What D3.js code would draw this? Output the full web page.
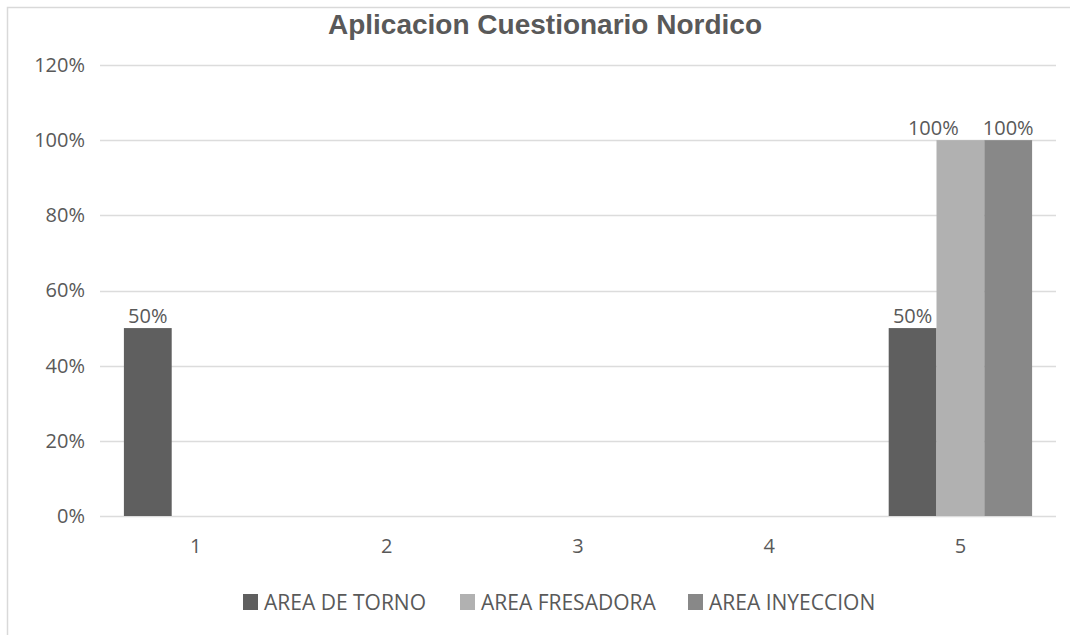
<!DOCTYPE html>
<html>
<head>
<meta charset="utf-8">
<script src="https://cdn.jsdelivr.net/npm/d3@7"></script>
<style>
  html, body { margin: 0; padding: 0; background: #fff; }
  svg { display: block; }
  text { font-family: "Open Sans", "Noto Sans", sans-serif; fill: #595959; }
</style>
</head>
<body>
<svg id="chart" width="1070" height="635"></svg>
<script>
// Chart data
const categories = ["1", "2", "3", "4", "5"];
const seriesNames = ["AREA DE TORNO", "AREA FRESADORA", "AREA INYECCION"];
const areaTorno = [0.5, 0, 0, 0, 0.5];
const areaFresadora = [0, 0, 0, 0, 1];
const areaInyeccion = [0, 0, 0, 0, 1];
const yTicks = [0, 0.2, 0.4, 0.6, 0.8, 1.0, 1.2];
const seriesColors = ["#5f5f5f", "#b1b1b1", "#888888"];
const titleText = "Aplicacion Cuestionario Nordico";

const seriesValues = [areaTorno, areaFresadora, areaInyeccion];

const svg = d3.select("#chart");
const W = 1070, H = 635;
const margin = { left: 100, right: 14, top: 65, bottom: 119 };
const plotW = W - margin.left - margin.right;
const plotH = H - margin.top - margin.bottom;
const labelSize = "20px";
const labelGap = 24; // minimum spacing between neighbouring value labels

// outer chart frame
svg.append("rect")
  .attr("x", 7.5).attr("y", 7.5)
  .attr("width", 1200).attr("height", 800)
  .attr("fill", "none").attr("stroke", "#d9d9d9").attr("stroke-width", 1.5);

const g = svg.append("g").attr("transform", `translate(${margin.left},${margin.top})`);

const x0 = d3.scaleBand().domain(categories).range([0, plotW]).paddingInner(0.25).paddingOuter(0.125);
const x1 = d3.scaleBand().domain(seriesNames).range([0, x0.bandwidth()]);
const y = d3.scaleLinear().domain([0, 1.2]).range([plotH, 0]);

// gridlines
g.append("g")
  .selectAll("line")
  .data(yTicks)
  .join("line")
  .attr("x1", 0).attr("x2", plotW)
  .attr("y1", d => Math.round(y(d)) + 0.5).attr("y2", d => Math.round(y(d)) + 0.5)
  .attr("stroke", "#dcdcdc").attr("stroke-width", 1.5);

// y axis labels
const yAxis = d3.axisLeft(y).tickValues(yTicks).tickFormat(d3.format(".0%")).tickSize(0).tickPadding(15);
g.append("g").call(yAxis)
  .call(a => a.select(".domain").remove())
  .selectAll("text")
  .style("font-size", labelSize).attr("fill", "#595959").style("font-family", "'Open Sans', sans-serif");

// x axis labels
const xAxis = d3.axisBottom(x0).tickSize(0).tickPadding(23);
g.append("g").attr("transform", `translate(0,${plotH})`).call(xAxis)
  .call(a => a.select(".domain").remove())
  .selectAll("text")
  .style("font-size", labelSize).attr("fill", "#595959").style("font-family", "'Open Sans', sans-serif");

// bars
const rows = categories.map((c, i) => ({
  cat: c,
  vals: seriesNames.map((s, j) => ({ series: s, idx: j, value: seriesValues[j][i] }))
}));

const groups = g.append("g").selectAll("g")
  .data(rows)
  .join("g")
  .attr("transform", d => `translate(${x0(d.cat)},0)`);

groups.selectAll("rect")
  .data(d => d.vals.filter(v => v.value > 0))
  .join("rect")
  .attr("x", d => x1(d.series))
  .attr("width", x1.bandwidth())
  .attr("y", d => y(d.value))
  .attr("height", d => y(0) - y(d.value))
  .attr("fill", d => seriesColors[d.idx]);

// value labels
groups.each(function () {
  const labels = d3.select(this).selectAll("text.val")
    .data(d => d.vals.filter(v => v.value > 0))
    .join("text")
    .attr("class", "val")
    .attr("x", d => x1(d.series) + x1.bandwidth() / 2)
    .attr("y", d => y(d.value) - 5)
    .attr("text-anchor", "middle")
    .style("font-size", labelSize)
    .text(d => d3.format(".0%")(d.value));

  // push labels at the same height leftwards when they would collide
  const nodes = labels.nodes();
  for (let i = nodes.length - 2; i >= 0; i--) {
    const a = nodes[i], b = nodes[i + 1];
    if (a.getAttribute("y") !== b.getAttribute("y")) continue;
    const wa = a.getComputedTextLength(), wb = b.getComputedTextLength();
    const ax = +a.getAttribute("x"), bx = +b.getAttribute("x");
    const maxAx = bx - wb / 2 - labelGap - wa / 2;
    if (ax > maxAx) a.setAttribute("x", maxAx);
  }
});

// title
svg.append("text")
  .attr("x", 545).attr("y", 34)
  .attr("text-anchor", "middle")
  .style("font-family", "'Liberation Sans', Arial, sans-serif")
  .style("font-weight", "bold")
  .style("font-size", "28px")
  .attr("fill", "#5a5a5a")
  .text(titleText);

// legend
const legendX = [243, 460, 688];
const legend = svg.append("g").selectAll("g")
  .data(seriesNames)
  .join("g")
  .attr("transform", (d, i) => `translate(${legendX[i]},594)`);
legend.append("rect")
  .attr("width", 15).attr("height", 16)
  .attr("fill", (d, i) => seriesColors[i]);
legend.append("text")
  .attr("x", 21).attr("y", 15.5)
  .style("font-size", "21px")
  .text(d => d);
</script>
</body>
</html>
